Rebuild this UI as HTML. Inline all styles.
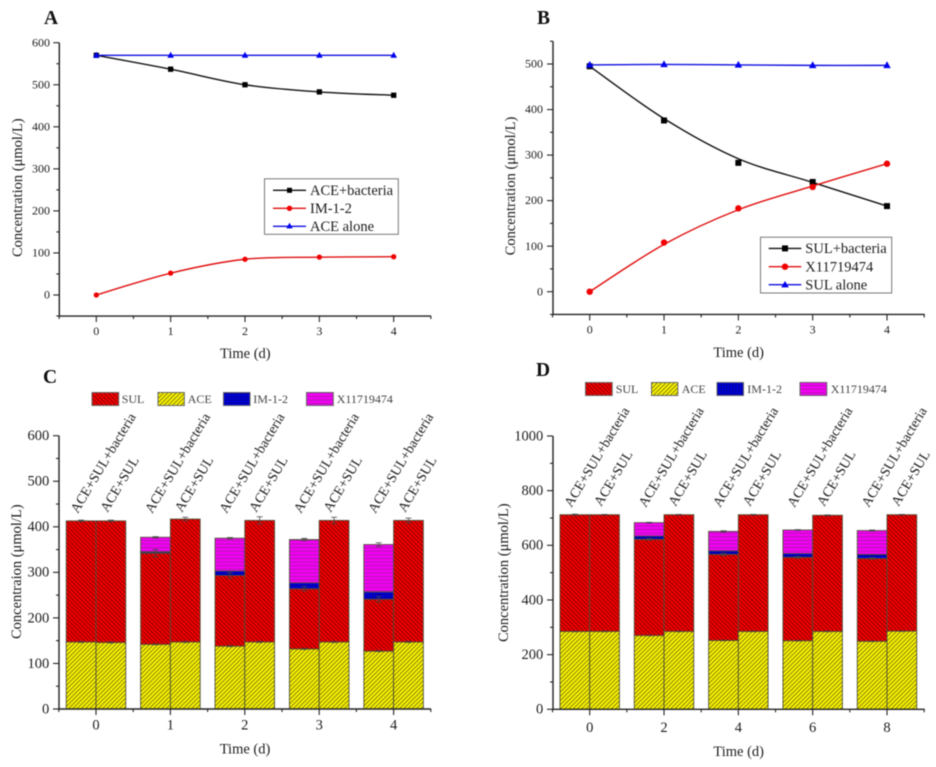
<!DOCTYPE html>
<html lang="en">
<head>
<meta charset="utf-8">
<title>Concentration charts</title>
<style>
html,body{margin:0;padding:0;background:#fff;width:936px;height:767px;overflow:hidden}
#figure{display:block;filter:blur(.4px)}
text{font-family:"Liberation Serif",serif;fill:#1c1c1c}
.lt{font-size:14.5px}
.bl{font-size:12px;fill:#444}
.pl{font-size:19.5px;font-weight:bold;fill:#111}
</style>
</head>
<body>
<svg id="figure" xmlns="http://www.w3.org/2000/svg" width="936" height="767" viewBox="0 0 936 767">
<defs>
<pattern id="h-sul" width="3" height="3" patternUnits="userSpaceOnUse" patternTransform="rotate(45)">
<rect width="3" height="3" fill="#f40000"/><rect width="3" height="1" fill="#8c0000"/>
</pattern>
<pattern id="h-ace" width="3" height="3" patternUnits="userSpaceOnUse" patternTransform="rotate(-45)">
<rect width="3" height="3" fill="#fbf400"/><rect width="3" height="1" fill="#85820c"/>
</pattern>
<pattern id="h-im" width="3" height="3" patternUnits="userSpaceOnUse">
<rect width="3" height="3" fill="#0000d8"/><rect width="1.5" height="1.5" fill="#000080"/>
</pattern>
<pattern id="h-x" width="3.6" height="3.6" patternUnits="userSpaceOnUse">
<rect width="3.6" height="3.6" fill="#f400f4"/><rect width="3.6" height=".8" fill="#a020a0"/>
</pattern>
</defs>

<text class="pl" x="44" y="24">A</text>
<text class="pl" x="537" y="24">B</text>
<text class="pl" x="43" y="383">C</text>
<text class="pl" x="536" y="376">D</text>

<text class="lt" text-anchor="middle" x="245.3" y="358">Time (d)</text>
<text class="lt" text-anchor="middle" x="738.7" y="357">Time (d)</text>
<text class="lt" text-anchor="middle" x="245" y="753.5">Time (d)</text>
<text class="lt" text-anchor="middle" x="738.7" y="756">Time (d)</text>
<text class="lt" text-anchor="middle" transform="translate(22 187.7) rotate(-90)">Concentration (μmol/L)</text>
<text class="lt" text-anchor="middle" transform="translate(515 186) rotate(-90)">Concentration (μmol/L)</text>
<text class="lt" text-anchor="middle" transform="translate(21 571.7) rotate(-90)">Concentraion (μmol/L)</text>
<text class="lt" text-anchor="middle" transform="translate(508 572.7) rotate(-90)">Concentration (μmol/L)</text>

<g id="plots"></g>

<g>
<rect x="264.5" y="178.8" width="133.8" height="55.5" fill="#fff" stroke="#777" stroke-width="1"/>
<g>
<line x1="273" x2="306" y1="190.3" y2="190.3" stroke="#111" stroke-width="1.4"/><rect x="287" y="187.8" width="5" height="5" fill="#000"/>
<text class="lt" x="310" y="195">ACE+bacteria</text></g>
<g>
<line x1="273" x2="306" y1="208.3" y2="208.3" stroke="#e01010" stroke-width="1.4"/><circle cx="289.5" cy="208.3" r="2.7" fill="#f00000"/>
<text class="lt" x="310" y="213">IM-1-2</text></g>
<g>
<line x1="273" x2="306" y1="226.3" y2="226.3" stroke="#1010e0" stroke-width="1.4"/><path d="M289.5 222.8l3.2 5.6h-6.4z" fill="#0000f0"/>
<text class="lt" x="310" y="231">ACE alone</text></g>
</g>

<g>
<rect x="760.5" y="237.2" width="131.2" height="55.8" fill="#fff" stroke="#777" stroke-width="1"/>
<g>
<line x1="768.7" x2="801.3" y1="248.4" y2="248.4" stroke="#111" stroke-width="1.4"/><rect x="782" y="245.4" width="6" height="6" fill="#000"/>
<text class="lt" x="805.3" y="253">SUL+bacteria</text></g>
<g>
<line x1="768.7" x2="801.3" y1="266.7" y2="266.7" stroke="#e01010" stroke-width="1.4"/><circle cx="785" cy="266.7" r="3.2" fill="#f00000"/>
<text class="lt" x="805.3" y="271.5">X11719474</text></g>
<g>
<line x1="768.7" x2="801.3" y1="284.7" y2="284.7" stroke="#1010e0" stroke-width="1.4"/><path d="M785 281l3.8 6.4h-7.6z" fill="#0000f0"/>
<text class="lt" x="805.3" y="289.5">SUL alone</text></g>
</g>

<g stroke-width="1">
<g><rect x="92" y="392.5" width="26.7" height="13" fill="url(#h-sul)" stroke="#666"/><text class="bl" x="121.7" y="403">SUL</text></g>
<g><rect x="158" y="392.5" width="26.3" height="13" fill="url(#h-ace)" stroke="#666"/><text class="bl" x="187.7" y="403">ACE</text></g>
<g><rect x="223.5" y="392.5" width="26.5" height="13" fill="url(#h-im)" stroke="#666"/><text class="bl" x="253.3" y="403">IM-1-2</text></g>
<g><rect x="306.5" y="392.5" width="26.8" height="13" fill="url(#h-x)" stroke="#666"/><text class="bl" x="336.7" y="403">X11719474</text></g>
</g>

<g stroke-width="1">
<g><rect x="585.5" y="382.5" width="26.7" height="13" fill="url(#h-sul)" stroke="#666"/><text class="bl" x="615.7" y="393">SUL</text></g>
<g><rect x="651.5" y="382.5" width="26.3" height="13" fill="url(#h-ace)" stroke="#666"/><text class="bl" x="681.7" y="393">ACE</text></g>
<g><rect x="717" y="382.5" width="26.5" height="13" fill="url(#h-im)" stroke="#666"/><text class="bl" x="747.3" y="393">IM-1-2</text></g>
<g><rect x="800" y="382.5" width="26.8" height="13" fill="url(#h-x)" stroke="#666"/><text class="bl" x="830.7" y="393">X11719474</text></g>
</g>
</svg>

<script>
// Panel A
const aDays = [0, 1, 2, 3, 4];
const aAceBacteria = [570, 537, 500, 483, 475];
const aIm12 = [0, 52, 85, 90, 91];
const aAceAlone = [570, 570, 570, 570, 570];
const aYTicks = [0, 100, 200, 300, 400, 500, 600];
// Panel B
const bDays = [0, 1, 2, 3, 4];
const bSulBacteria = [495, 376, 283, 241, 188];
const bSulBacteriaFit = [495, 380, 292, 240, 188];
const bX11719474 = [0, 108, 183, 230, 281];
const bX11719474Fit = [0, 104, 180, 232, 281];
const bSulAlone = [498, 499, 498, 497, 497];
const bYTicks = [0, 100, 200, 300, 400, 500];
// Panel C
const cCategories = ['0', '1', '2', '3', '4'];
const cYTicks = [0, 100, 200, 300, 400, 500, 600];
const cTreatedAce = [147, 142, 138, 132, 127];
const cTreatedSul = [266, 200, 155, 132, 114];
const cTreatedIm = [0, 3, 10, 13, 16];
const cTreatedX = [0, 32, 72, 95, 104];
const cControlAce = [146, 147, 147, 147, 147];
const cControlSul = [267, 270, 267, 267, 267];
const cTreatedTopErr = [1.5, 1.5, 1.5, 2.5, 4];
const cControlTopErr = [1.5, 4, 8, 7, 5];
const cTreatedSulErr = [0, 8, 6, 5, 6];
// Panel D
const dCategories = ['0', '2', '4', '6', '8'];
const dYTicks = [0, 200, 400, 600, 800, 1000];
const dTreatedAce = [285, 270, 252, 251, 249];
const dTreatedSul = [427, 352, 315, 305, 303];
const dTreatedIm = [0, 12, 13, 14, 15];
const dTreatedX = [0, 49, 71, 86, 87];
const dControlAce = [285, 285, 285, 285, 286];
const dControlSul = [427, 427, 427, 425, 426];
const dTreatedTopErr = [2, 1.5, 2, 1.5, 2];
const dControlTopErr = [1, 1, 1, 1.5, 1];
const dTreatedSulErr = [0, 3, 4, 3, 3];

const barLabelTreated = 'ACE+SUL+bacteria';
const barLabelControl = 'ACE+SUL';

const NS = 'http://www.w3.org/2000/svg';
const plots = document.getElementById('plots');

function make(tag, attrs, parent) {
  const node = document.createElementNS(NS, tag);
  for (const k in attrs) node.setAttribute(k, attrs[k]);
  parent.appendChild(node);
  return node;
}
function linear(d0, d1, r0, r1) {
  return v => r0 + (v - d0) * (r1 - r0) / (d1 - d0);
}
function spline(pts) {
  let d = 'M' + pts[0][0] + ' ' + pts[0][1];
  for (let i = 0; i < pts.length - 1; i++) {
    const p0 = pts[Math.max(i - 1, 0)], p1 = pts[i], p2 = pts[i + 1], p3 = pts[Math.min(i + 2, pts.length - 1)];
    d += 'C' + (p1[0] + (p2[0] - p0[0]) / 6) + ' ' + (p1[1] + (p2[1] - p0[1]) / 6) + ' ' +
         (p2[0] - (p3[0] - p1[0]) / 6) + ' ' + (p2[1] - (p3[1] - p1[1]) / 6) + ' ' + p2[0] + ' ' + p2[1];
  }
  return d;
}

// Draws both axes with major and minor ticks; labels come from the tick arrays.
function drawAxes(g, o) {
  const axisColor = '#222';
  const yAxis = make('line', {x1: o.left, x2: o.left, y1: o.y(o.yMax), y2: o.y(o.yMin) + .6, stroke: axisColor, 'stroke-width': 1.4}, g);
  
  
  const xAxis = make('line', {x1: o.left - .6, x2: o.right, y1: o.y(o.yMin), y2: o.y(o.yMin), stroke: axisColor, 'stroke-width': 1.4}, g);
  
  

  const step = o.yTicks[1] - o.yTicks[0];
  for (let v = o.yMin; v <= o.yMax + 1e-6; v += step / 2) {
    const major = o.yTicks.indexOf(v) >= 0;
    const t = make('line', {x1: o.left - (major ? 6 : 3), x2: o.left, y1: o.y(v), y2: o.y(v), stroke: axisColor, 'stroke-width': 1.1}, g);
    
    
  }
  o.yTicks.forEach(v => {
    const label = make('text', {x: o.yLabelX, y: o.y(v) + o.tickFont * .3, 'text-anchor': 'end', 'font-size': o.tickFont}, g);
    label.textContent = v;
    
    
  });
  for (let i = -1; i < o.xLabels.length * 2; i++) {
    const major = i % 2 === 0;
    const px = o.x(i / 2);
    if (px > o.right + .5) continue;
    const t = make('line', {x1: px, x2: px, y1: o.y(o.yMin), y2: o.y(o.yMin) + (major ? 6 : 3), stroke: axisColor, 'stroke-width': 1.1}, g);
    
    
  }
  o.xLabels.forEach((lab, i) => {
    const label = make('text', {x: o.x(i), y: o.xLabelY, 'text-anchor': 'middle', 'font-size': o.tickFont}, g);
    label.textContent = lab;
    
    
  });
}

function drawSeries(g, o, days, values, fit, color, kind, size, name) {
  const line = make('path', {d: spline(fit.map((v, i) => [o.x(days[i]), o.y(v)])), fill: 'none', stroke: color, 'stroke-width': 1.4}, g);
  
  
  values.forEach((v, i) => {
    const cx = o.x(days[i]), cy = o.y(v);
    let m;
    if (kind === 'square') {
      m = make('rect', {x: cx - size / 2, y: cy - size / 2, width: size, height: size, fill: '#000'}, g);
    } else if (kind === 'circle') {
      m = make('circle', {cx: cx, cy: cy, r: size / 2, fill: '#f00000'}, g);
    } else {
      m = make('path', {d: 'M' + cx + ' ' + (cy - size * .6) + 'l' + size * .55 + ' ' + size + 'h' + (-size * 1.1) + 'z', fill: '#0000f0'}, g);
    }
    
    
  });
}

function drawError(g, o, cx, value, err) {
  if (!err) return;
  const color = '#444';
  const bar = make('path', {
    d: 'M' + cx + ' ' + o.y(value + err) + 'V' + o.y(value - err) +
       'M' + (cx - 3) + ' ' + o.y(value + err) + 'h6M' + (cx - 3) + ' ' + o.y(value - err) + 'h6',
    fill: 'none', stroke: color, 'stroke-width': .8}, g);
  
  
}

function drawStack(g, o, cx, width, segments, name) {
  let base = 0;
  segments.forEach(seg => {
    if (seg.value > 0) {
      const top = base + seg.value;
      const r = make('rect', {x: cx - width / 2, y: o.y(top), width: width, height: o.y(base) - o.y(top), fill: 'url(#' + seg.pattern + ')', stroke: '#50503a', 'stroke-width': .9}, g);
      
      
      base = top;
    }
  });
}

function drawBars(g, o, treated, control, errs) {
  const unit = o.x(1) - o.x(0);
  const w = unit * .4;
  o.xLabels.forEach((_, i) => {
    const cxA = o.x(i) - w / 2, cxB = o.x(i) + w / 2;
    drawStack(g, o, cxA, w, [
      {key: 'ace', value: treated.ace[i], pattern: 'h-ace'},
      {key: 'sul', value: treated.sul[i], pattern: 'h-sul'},
      {key: 'im-1-2', value: treated.im[i], pattern: 'h-im'},
      {key: 'x11719474', value: treated.x[i], pattern: 'h-x'}
    ], 'bar-treated');
    drawStack(g, o, cxB, w, [
      {key: 'ace', value: control.ace[i], pattern: 'h-ace'},
      {key: 'sul', value: control.sul[i], pattern: 'h-sul'}
    ], 'bar-control');
    const topA = treated.ace[i] + treated.sul[i] + treated.im[i] + treated.x[i];
    const topB = control.ace[i] + control.sul[i];
    drawError(g, o, cxA, topA, errs.treatedTop[i]);
    drawError(g, o, cxB, topB, errs.controlTop[i]);
    drawError(g, o, cxA, treated.ace[i] + treated.sul[i], errs.treatedSul[i]);
    drawError(g, o, cxA, treated.ace[i], 1);
    drawError(g, o, cxB, control.ace[i], 1);

    const lxA = cxA - 3.4, lxB = cxB - 3.4;
    const a = make('text', {transform: 'translate(' + lxA + ' ' + o.labelY + ') rotate(-59)', 'font-size': 13.9}, g);
    a.textContent = barLabelTreated;
    
    
    const b = make('text', {transform: 'translate(' + lxB + ' ' + (o.labelY - 1) + ') rotate(-59)', 'font-size': 13.9}, g);
    b.textContent = barLabelControl;
    
    
  });
}

function panel(name) {
  const g = make('g', {}, plots);
  
  
  return g;
}

// Panel A render
const gA = panel('chart-a');
const optA = {left: 59.3, right: 431, x: linear(0, 4, 96.3, 393.7), y: linear(0, 600, 295, 42.7), yMin: -50, yMax: 600,
  yTicks: aYTicks, xLabels: ['0', '1', '2', '3', '4'], yLabelX: 50, xLabelY: 335, tickFont: 12};
drawAxes(gA, optA);
drawSeries(gA, optA, aDays, aAceBacteria, aAceBacteria, '#111', 'square', 5.3, 'ace-bacteria');
drawSeries(gA, optA, aDays, aIm12, aIm12, '#e01010', 'circle', 5.3, 'im-1-2');
drawSeries(gA, optA, aDays, aAceAlone, aAceAlone, '#1010e0', 'triangle', 6, 'ace-alone');

// Panel B render
const gB = panel('chart-b');
const optB = {left: 553, right: 924.7, x: linear(0, 4, 589.7, 887), y: linear(0, 500, 291.7, 64), yMin: -50, yMax: 550,
  yTicks: bYTicks, xLabels: ['0', '1', '2', '3', '4'], yLabelX: 543, xLabelY: 333.5, tickFont: 12};
drawAxes(gB, optB);
drawSeries(gB, optB, bDays, bSulBacteria, bSulBacteriaFit, '#111', 'square', 6, 'sul-bacteria');
drawSeries(gB, optB, bDays, bX11719474, bX11719474Fit, '#e01010', 'circle', 6.4, 'x11719474');
drawSeries(gB, optB, bDays, bSulAlone, bSulAlone, '#1010e0', 'triangle', 6.8, 'sul-alone');

// Panel C render
const gC = panel('chart-c');
const optC = {left: 59, right: 431, x: linear(0, 4, 96, 393.6), y: linear(0, 600, 709, 435.7), yMin: 0, yMax: 600,
  yTicks: cYTicks, xLabels: cCategories, yLabelX: 49.3, xLabelY: 729.5, tickFont: 14.5, labelY: 514};
drawBars(gC, optC,
  {ace: cTreatedAce, sul: cTreatedSul, im: cTreatedIm, x: cTreatedX},
  {ace: cControlAce, sul: cControlSul},
  {treatedTop: cTreatedTopErr, controlTop: cControlTopErr, treatedSul: cTreatedSulErr});
drawAxes(gC, optC);

// Panel D render
const gD = panel('chart-d');
const optD = {left: 553, right: 924.7, x: linear(0, 4, 589.7, 887), y: linear(0, 1000, 709.3, 436), yMin: 0, yMax: 1000,
  yTicks: dYTicks, xLabels: dCategories, yLabelX: 543.3, xLabelY: 732, tickFont: 14.5, labelY: 508};
drawBars(gD, optD,
  {ace: dTreatedAce, sul: dTreatedSul, im: dTreatedIm, x: dTreatedX},
  {ace: dControlAce, sul: dControlSul},
  {treatedTop: dTreatedTopErr, controlTop: dControlTopErr, treatedSul: dTreatedSulErr});
drawAxes(gD, optD);
</script>
</body>
</html>
